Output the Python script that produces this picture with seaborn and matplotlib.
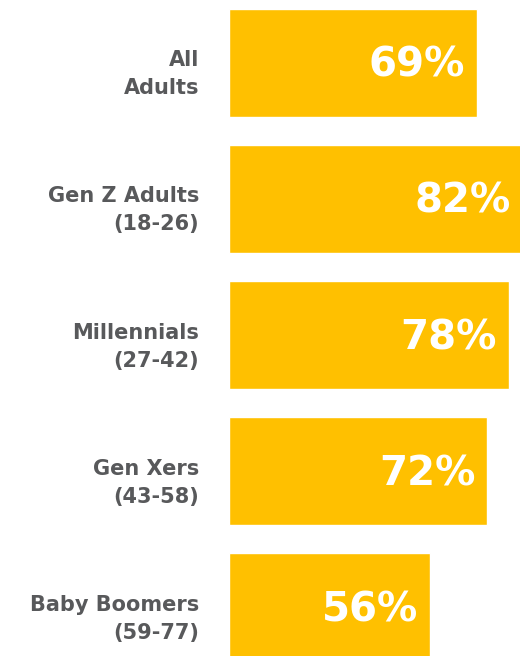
import matplotlib
matplotlib.use("Agg")
import matplotlib.pyplot as plt
import seaborn as sns
import pandas as pd

# Share of each generation, in percent
groups = ["All\nAdults", "Gen Z Adults\n(18-26)", "Millennials\n(27-42)",
          "Gen Xers\n(43-58)", "Baby Boomers\n(59-77)"]
shares = [69, 82, 78, 72, 56]

bar_color = "#FFC000"
label_color = "#58595B"

df = pd.DataFrame({"group": groups, "share": shares})

sns.set_theme(style="white")
plt.rcParams["font.family"] = ["DejaVu Sans"]

fig = plt.figure(figsize=(5.2, 6.56), dpi=100)
ax = fig.add_axes([229 / 520, 0, 291 / 520, 1])

sns.barplot(data=df, x="share", y="group", orient="h", color=bar_color,
            saturation=1, width=0.794, ax=ax)

ax.set_xlim(0, 81.1)
ax.set_ylim(4.36, -0.463)
ax.axis("off")

for i, (g, v) in enumerate(zip(groups, shares)):
    # value inside the bar end
    ax.annotate(f"{v}%", xy=(v, i), xytext=(-12, -14), textcoords="offset pixels",
                ha="right", va="baseline", color="white", fontsize=29,
                fontweight="bold", annotation_clip=False)
    # two-line group label to the left of the bar
    for k, line in enumerate(g.split("\n")):
        ax.annotate(line, xy=(0, i), xytext=(-30, -3.5 - 28 * k),
                    textcoords="offset pixels", ha="right", va="baseline",
                    color=label_color, fontsize=15, fontweight="bold",
                    annotation_clip=False)

fig.savefig("out.png", dpi=100)
